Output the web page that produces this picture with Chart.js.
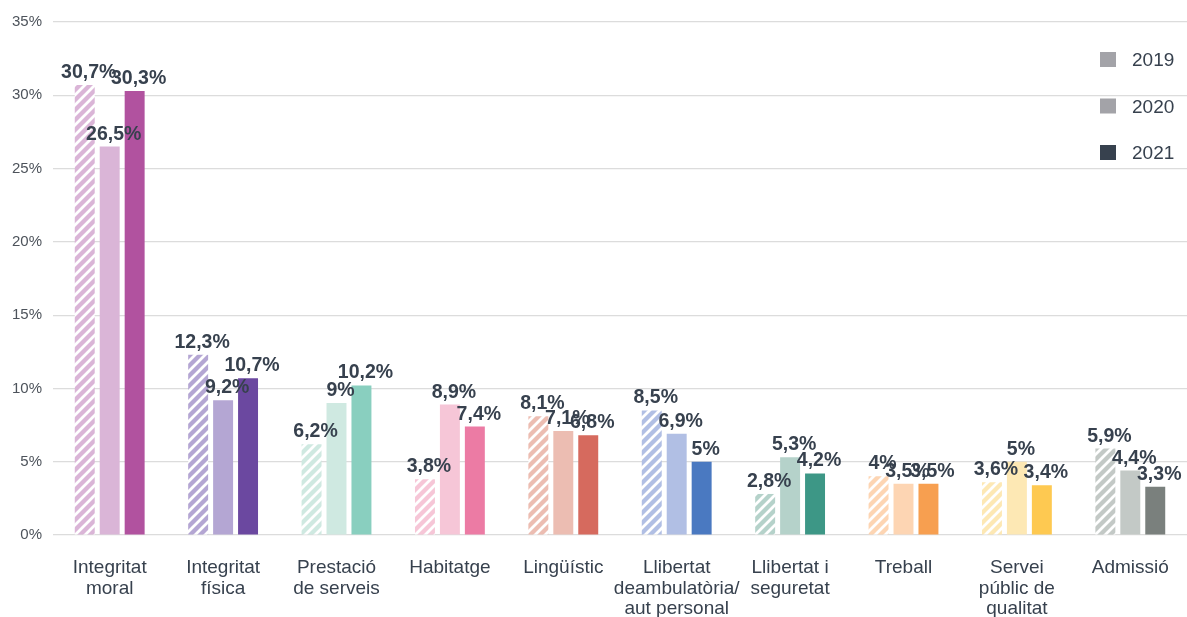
<!DOCTYPE html>
<html lang="ca">
<head>
    <meta charset="UTF-8">
    <title>Vulneracions per àmbit</title>
    <script src="https://cdn.jsdelivr.net/npm/chart.js"></script>
    <style>
        body { margin: 0; background: #fff; }
        .wrap { width: 1187px; height: 617px; position: relative; }
    </style>
</head>
<body>
    <div class="wrap">
        <canvas id="barChart"></canvas>
    </div>

    <script>
        const categories = [
            ['Integritat', 'moral'],
            ['Integritat', 'física'],
            ['Prestació', 'de serveis'],
            ['Habitatge'],
            ['Lingüístic'],
            ['Llibertat', 'deambulatòria/', 'aut personal'],
            ['Llibertat i', 'seguretat'],
            ['Treball'],
            ['Servei', 'públic de', 'qualitat'],
            ['Admissió']
        ];
        const years = ['2019', '2020', '2021'];
        const values2019 = [30.7, 12.3, 6.2, 3.8, 8.1, 8.5, 2.8, 4, 3.6, 5.9];
        const values2020 = [26.5, 9.2, 9, 8.9, 7.1, 6.9, 5.3, 3.5, 5, 4.4];
        const values2021 = [30.3, 10.7, 10.2, 7.4, 6.8, 5, 4.2, 3.5, 3.4, 3.3];
        const yTicks = [0, 5, 10, 15, 20, 25, 30, 35];

        // colours per category: light (2019/2020) and dark (2021)
        const lightColors = ['#dab5d7', '#b4a6d3', '#cfe9e1', '#f6c6d7', '#ecbdb2',
                             '#b1bfe4', '#b5d2ca', '#fdd5b3', '#fde8b4', '#c3c9c6'];
        const darkColors = ['#b1529f', '#6b48a0', '#89cfbf', '#ec7ba4', '#d66a5e',
                            '#4a79c1', '#3d9786', '#f79f50', '#fec951', '#7a807d'];
        const legendColors = ['#a3a3a8', '#a3a3a8', '#37414e'];
        const textColor = '#37414e';
        const fontFamily = '"Liberation Sans", Arial, Helvetica, sans-serif';

        function makeHatch(color) {
            const s = 10;
            const c = document.createElement('canvas');
            c.width = s; c.height = s;
            const g = c.getContext('2d');
            g.fillStyle = color;
            g.fillRect(0, 0, s, s);
            g.strokeStyle = '#ffffff';
            g.lineWidth = 2.8;
            g.beginPath();
            g.moveTo(0, s); g.lineTo(s, 0);
            g.moveTo(-2, 2); g.lineTo(2, -2);
            g.moveTo(s - 2, s + 2); g.lineTo(s + 2, s - 2);
            g.stroke();
            return g.createPattern(c, 'repeat');
        }

        const fmt = v => String(v).replace('.', ',') + '%';

        const valueLabels = {
            id: 'valueLabels',
            afterDatasetsDraw(chart) {
                const ctx = chart.ctx;
                ctx.save();
                ctx.font = 'bold 19.5px ' + fontFamily;
                ctx.fillStyle = textColor;
                ctx.textAlign = 'center';
                ctx.textBaseline = 'alphabetic';
                chart.data.datasets.forEach((ds, i) => {
                    chart.getDatasetMeta(i).data.forEach((bar, j) => {
                        ctx.fillText(fmt(ds.data[j]), bar.x + 4, bar.y - 7);
                    });
                });
                ctx.restore();
            }
        };

        const sideLegend = {
            id: 'sideLegend',
            afterDraw(chart) {
                const ctx = chart.ctx;
                ctx.save();
                ctx.font = '19px ' + fontFamily;
                ctx.textBaseline = 'middle';
                years.forEach((y, i) => {
                    const cy = 60 + i * 46.5;
                    ctx.fillStyle = legendColors[i];
                    ctx.fillRect(1100, cy - 8, 16, 15);
                    ctx.fillStyle = textColor;
                    ctx.fillText(y, 1132, cy + 1);
                });
                ctx.restore();
            }
        };

        const ctx = document.getElementById('barChart').getContext('2d');
        new Chart(ctx, {
            type: 'bar',
            data: {
                labels: categories,
                datasets: [{
                    label: years[0],
                    data: values2019,
                    backgroundColor: lightColors.map(makeHatch)
                }, {
                    label: years[1],
                    data: values2020,
                    backgroundColor: lightColors
                }, {
                    label: years[2],
                    data: values2021,
                    backgroundColor: darkColors
                }]
            },
            options: {
                responsive: true,
                maintainAspectRatio: false,
                animation: false,
                layout: { padding: { top: 22, right: 0, left: 0, bottom: 0 } },
                datasets: {
                    bar: { barPercentage: 0.8, categoryPercentage: 0.66 }
                },
                scales: {
                    x: {
                        grid: { display: false },
                        border: { display: false },
                        ticks: {
                            color: textColor,
                            padding: 14,
                            maxRotation: 0,
                            autoSkip: false,
                            font: { family: fontFamily, size: 19, lineHeight: 1.1 }
                        },
                        afterFit(scale) { scale.height = 82; }
                    },
                    y: {
                        min: 0,
                        max: 35,
                        afterBuildTicks(scale) {
                            scale.ticks = yTicks.map(v => ({ value: v }));
                        },
                        grid: { color: '#dcdcdc', lineWidth: 1.2, drawTicks: false },
                        border: { display: false },
                        ticks: {
                            color: '#4d535b',
                            padding: 11,
                            font: { family: fontFamily, size: 15 },
                            callback: v => v + '%'
                        },
                        afterFit(scale) { scale.width = 53; }
                    }
                },
                plugins: {
                    legend: { display: false },
                    tooltip: { enabled: false }
                }
            },
            plugins: [valueLabels, sideLegend]
        });
    </script>
</body>
</html>
